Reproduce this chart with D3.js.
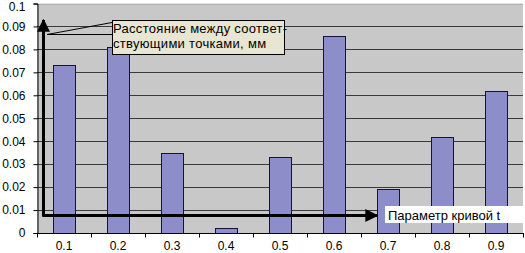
<!DOCTYPE html>
<html>
<head>
<meta charset="utf-8">
<script src="https://cdn.jsdelivr.net/npm/d3@7"></script>
<style>
  body { margin: 0; background: #fff; }
  svg { display: block; font-family: "Liberation Sans", Arial, sans-serif; }
</style>
</head>
<body>
<svg id="chart" width="525" height="253"></svg>
<script>
const categories = ["0.1", "0.2", "0.3", "0.4", "0.5", "0.6", "0.7", "0.8", "0.9"];
const distances = [0.073, 0.081, 0.035, 0.002, 0.033, 0.086, 0.019, 0.042, 0.062];
const yTicks = [0, 0.01, 0.02, 0.03, 0.04, 0.05, 0.06, 0.07, 0.08, 0.09, 0.1];
const yTickLabels = ["0", "0.01", "0.02", "0.03", "0.04", "0.05", "0.06", "0.07", "0.08", "0.09", "0.1"];
const yLabelText = ["Расстояние между соответ-", "ствующими точками, мм"];
const xLabelText = "Параметр кривой t";

const svg = d3.select("#chart");
const plotLeft = 37, plotRight = 523, plotTop = 3.5, plotBottom = 233;

const x = d3.scaleBand().domain(categories).range([plotLeft, plotRight]).paddingInner(0.6).paddingOuter(0.3);
const step = x.step();
const y = d3.scaleLinear().domain([0, 0.1]).range([plotBottom, plotTop]);

// plot background
svg.append("rect")
  .attr("x", plotLeft).attr("y", plotTop)
  .attr("width", plotRight - plotLeft).attr("height", plotBottom - plotTop)
  .attr("fill", "#c8c8c8");

// gridlines
svg.append("g")
  .selectAll("line")
  .data(yTicks.filter(d => d > 0))
  .join("line")
  .attr("x1", plotLeft).attr("x2", plotRight)
  .attr("y1", d => Math.round(y(d)) + 0.5).attr("y2", d => Math.round(y(d)) + 0.5)
  .attr("stroke", d => d === 0.1 ? "#b0b0b0" : "#3a3a3a")
  .attr("stroke-width", 1);

// bars
svg.append("g")
  .selectAll("rect")
  .data(distances)
  .join("rect")
  .attr("x", (d, i) => Math.round(x(categories[i])) + 0.5)
  .attr("y", d => Math.round(y(d)) + 0.5)
  .attr("width", Math.round(x.bandwidth()))
  .attr("height", d => Math.round(plotBottom) - Math.round(y(d)))
  .attr("fill", "#8c8dc9")
  .attr("stroke", "#14143a")
  .attr("stroke-width", 1);

// y axis
const yAxis = d3.axisLeft(y)
  .tickValues(yTicks)
  .tickSize(4)
  .tickPadding(8)
  .tickFormat((d, i) => yTickLabels[i]);
const gy = svg.append("g").attr("transform", `translate(${plotLeft + 0.5},0)`).call(yAxis);
gy.select(".domain").attr("stroke", "#000");
gy.selectAll(".tick line").attr("stroke", "#000");
gy.selectAll(".tick text").attr("font-size", 12).attr("fill", "#000")
  .attr("font-family", "Liberation Sans, Arial, sans-serif");
// keep the top label inside the page
gy.selectAll(".tick text").filter(d => d === 0.1).attr("dy", "0.6em");

// x axis: labels centred in bands, tick marks on band boundaries
const xAxis = d3.axisBottom(x).tickSize(0).tickPadding(8);
const gx = svg.append("g").attr("transform", `translate(0,${plotBottom + 0.5})`).call(xAxis);
gx.select(".domain").remove();
gx.selectAll(".tick text").attr("font-size", 12).attr("fill", "#000")
  .attr("font-family", "Liberation Sans, Arial, sans-serif");
gx.append("line").attr("x1", plotLeft).attr("x2", plotRight + 1).attr("y1", 0).attr("y2", 0).attr("stroke", "#000");
gx.selectAll(".bound")
  .data(d3.range(categories.length + 1))
  .join("line")
  .attr("class", "bound")
  .attr("x1", i => Math.round(plotLeft + i * step) + 0.5)
  .attr("x2", i => Math.round(plotLeft + i * step) + 0.5)
  .attr("y1", 0).attr("y2", 4)
  .attr("stroke", "#000");

// annotation arrows
const defs = svg.append("defs");
defs.append("marker")
  .attr("id", "arrow")
  .attr("viewBox", "0 -5 10 10")
  .attr("refX", 9).attr("refY", 0)
  .attr("markerUnits", "userSpaceOnUse")
  .attr("markerWidth", 13).attr("markerHeight", 13)
  .attr("orient", "auto")
  .append("path").attr("d", "M0,-5L10,0L0,5Z").attr("fill", "#000");

const ox = 43.5, oy = 215.5;
svg.append("line")
  .attr("x1", ox).attr("y1", oy + 1).attr("x2", ox).attr("y2", 20)
  .attr("stroke", "#000").attr("stroke-width", 3)
  .attr("marker-end", "url(#arrow)");
svg.append("line")
  .attr("x1", ox - 1).attr("y1", oy).attr("x2", 377).attr("y2", oy)
  .attr("stroke", "#000").attr("stroke-width", 3)
  .attr("marker-end", "url(#arrow)");

// callout for the y quantity
svg.append("polyline")
  .attr("points", "112,22.5 47,34.5 112,34.5")
  .attr("fill", "none").attr("stroke", "#000").attr("stroke-width", 1);
svg.append("rect")
  .attr("x", 112.5).attr("y", 20.5).attr("width", 172).attr("height", 34)
  .attr("fill", "#e8e6d2").attr("stroke", "#000").attr("stroke-width", 1);
svg.append("text")
  .attr("x", 113).attr("y", 33)
  .attr("font-size", 13).attr("letter-spacing", 0.3).attr("fill", "#000")
  .selectAll("tspan")
  .data(yLabelText)
  .join("tspan")
  .attr("x", 113)
  .attr("dy", (d, i) => i === 0 ? 0 : 15)
  .text(d => d);

// label for the x quantity
svg.append("rect")
  .attr("x", 385).attr("y", 206).attr("width", 140).attr("height", 17)
  .attr("fill", "#fff");
svg.append("text")
  .attr("x", 388).attr("y", 219.5)
  .attr("font-size", 13).attr("fill", "#000")
  .text(xLabelText);
</script>
</body>
</html>
